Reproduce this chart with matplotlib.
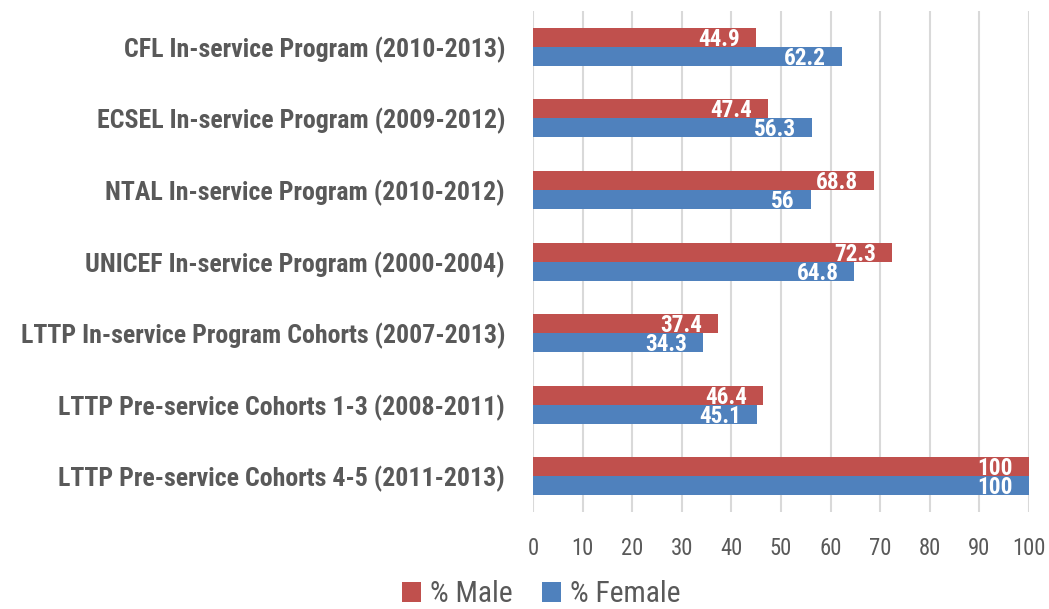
import numpy as np
import matplotlib.pyplot as plt
from matplotlib import font_manager

# 数据
categories = ['CFL In-service Program (2010-2013)',
              'ECSEL In-service Program (2009-2012)',
              'NTAL In-service Program (2010-2012)',
              'UNICEF In-service Program (2000-2004)',
              'LTTP In-service Program Cohorts (2007-2013)',
              'LTTP Pre-service Cohorts 1-3 (2008-2011)',
              'LTTP Pre-service Cohorts 4-5 (2011-2013)']
male = [44.9, 47.4, 68.8, 72.3, 37.4, 46.4, 100]
female = [62.2, 56.3, 56, 64.8, 34.3, 45.1, 100]
male_labels = ['44.9', '47.4', '68.8', '72.3', '37.4', '46.4', '100']
female_labels = ['62.2', '56.3', '56', '64.8', '34.3', '45.1', '100']
xticks = np.arange(0, 101, 10)

# 找一个窄字体（类似 Arial Narrow）
weights = {}
for f in font_manager.fontManager.ttflist:
    if f.style == 'normal':
        weights.setdefault(f.name, set()).add(f.weight)
fam = 'DejaVu Sans'
for cand in ['Liberation Sans Narrow', 'Roboto Condensed', 'PT Sans Narrow',
             'Barlow Semi Condensed', 'Asap Condensed']:
    if cand in weights and 700 in weights[cand] and 400 in weights[cand]:
        fam = cand
        break
plt.rcParams['font.family'] = [fam, 'DejaVu Sans']

red = '#C0504D'
blue = '#4F81BD'
grey = '#595959'

fig = plt.figure(figsize=(10.49, 6.09), dpi=100)
rend = fig.canvas.get_renderer()


def fit(text, width_px, weight='normal'):
    # 按参考图中的像素宽度求字号
    t = fig.text(0, 0, text, fontsize=10, fontweight=weight)
    w = t.get_window_extent(rend).width
    t.remove()
    return 10 * width_px / w


fs_cat = fit('LTTP Pre-service Cohorts 4-5 (2011-2013)', 450, 'bold')
fs_val = fit('62.2', 42, 'bold')
fs_tick = fit('100', 33)
fs_leg = fit('% Female', 110)

ax = fig.add_axes([0.508, 0.159, 0.473, 0.823])

y = np.arange(len(categories))
h = 0.265
ax.barh(y - h / 2, male, height=h, color=red, label='% Male', zorder=3)
ax.barh(y + h / 2, female, height=h, color=blue, label='% Female', zorder=3)

for i in range(len(categories)):
    ax.annotate(male_labels[i], (male[i], y[i] - h / 2), xytext=(-16, -2),
                textcoords='offset pixels', ha='right', va='center',
                color='white', fontsize=fs_val, fontweight='bold', zorder=4)
    ax.annotate(female_labels[i], (female[i], y[i] + h / 2), xytext=(-16, -2),
                textcoords='offset pixels', ha='right', va='center',
                color='white', fontsize=fs_val, fontweight='bold', zorder=4)

ax.set_xlim(0, 100)
ax.set_ylim(len(categories) - 0.5, -0.5)
ax.set_xticks(xticks)
ax.set_yticks(y)
ax.set_yticklabels(categories, fontsize=fs_cat, fontweight='bold', color=grey)
ax.tick_params(axis='x', labelsize=fs_tick, colors=grey, length=0, pad=18)
ax.tick_params(axis='y', length=0, pad=20)
ax.grid(axis='x', color='#D9D9D9', linewidth=1.5, zorder=0)
for s in ax.spines.values():
    s.set_visible(False)

leg = fig.legend(loc='center', bbox_to_anchor=(0.516, 0.024), ncol=2, frameon=False,
                 fontsize=fs_leg, handlelength=0.65, handleheight=0.65, handletextpad=0.3,
                 columnspacing=1.0, borderpad=0)
for t in leg.get_texts():
    t.set_color(grey)

fig.savefig('out.png', dpi=100)
